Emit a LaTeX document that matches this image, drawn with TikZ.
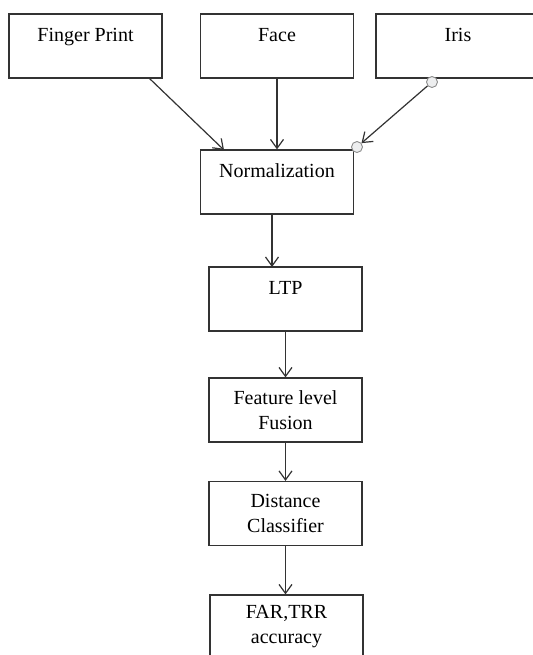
\documentclass[tikz,border=0pt]{standalone}
\usepackage{fontspec}
\setmainfont{Liberation Serif}
\usepackage{tikz}
\usetikzlibrary{arrows.meta, positioning}

\begin{document}
\begin{tikzpicture}[
  x=0.5pt, y=-0.5pt,
  font=\fontsize{10}{12.5}\selectfont,
  >={Straight Barb[length=4.5pt,width=6.5pt]},
  box/.style={draw=black!80, line width=0.6pt, rectangle, inner sep=0pt,
              minimum width=76.5pt, minimum height=32pt, align=center},
  toptext/.style={text height=13.5pt, text depth=18.5pt},
  flow/.style={->, draw=black!80, line width=0.6pt},
  dot/.style={draw=black!45, fill=cyan!10!black!8, circle, inner sep=0pt,
              minimum size=5.5pt, line width=0.45pt},
]
\path[use as bounding box] (0,0) rectangle (533,655);
% inputs
\node[box, toptext] (finger) at (85.5,46)  {Finger Print};
\node[box, toptext] (face)   at (277,46)   {Face};
\node[box, toptext, minimum width=82pt] (iris) at (458,46) {Iris};
% processing chain
\node[box, toptext] (norm)   at (277,182)  {Normalization};
\node[box, toptext] (ltp)    at (285.5,299) {LTP};
\node[box]          (fusion) at (285.5,410) {Feature level\\Fusion};
\node[box]          (dist)   at (285.5,513.5) {Distance\\Classifier};
\node[box]          (far)    at (286.5,627) {FAR,TRR\\accuracy};
% connector ends
\coordinate (fpout)   at (149,78);
\coordinate (normin)  at (224,150);
\coordinate (ltpin)   at (272,267);
\node[dot] (irisdot) at (432,82) {};
\node[dot] (normdot) at (357,147) {};

\draw[flow] (fpout) -- (normin);
\draw[flow] (face.south) -- (norm.north);
\draw[flow] (irisdot) -- (normdot);
\draw[flow] (norm.south -| ltpin) -- (ltpin);
\draw[flow] (ltp) -- (fusion);
\draw[flow] (fusion) -- (dist);
\draw[flow] (dist.south) -- (dist.south |- far.north);
\end{tikzpicture}
\end{document}
